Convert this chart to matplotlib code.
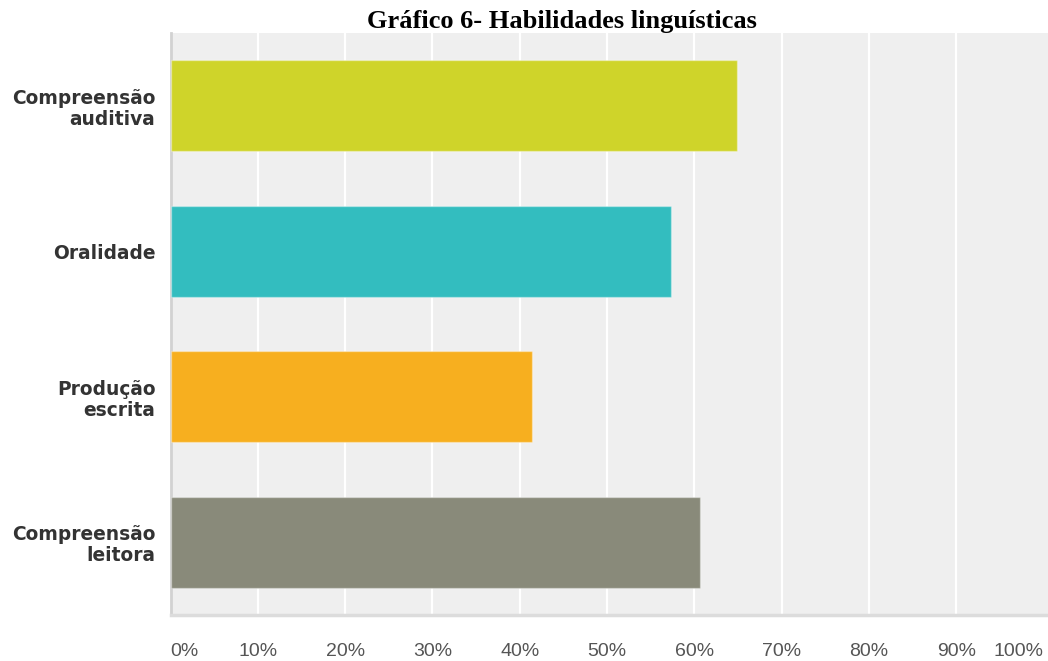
import matplotlib
matplotlib.use('Agg')
import matplotlib.pyplot as plt

# Respostas por habilidade (%)
categorias = ['Compreensão\nauditiva', 'Oralidade', 'Produção\nescrita', 'Compreensão\nleitora']
valores = [64.9, 57.3, 41.4, 60.6]
cores = ['#cfd42a', '#33bdbf', '#f7af1f', '#898a7a']
ticks_x = [0, 10, 20, 30, 40, 50, 60, 70, 80, 90, 100]
rotulos_x = [f'{t}%' for t in ticks_x]

fig = plt.figure(figsize=(10.48, 6.61), dpi=100)
ax = fig.add_axes([170.5 / 1048, 46 / 661, 877.5 / 1048, 582 / 661])
ax.set_facecolor('#efefef')

pos = list(range(len(categorias)))
ax.barh(pos, valores, height=0.625, color=cores,
        edgecolor=(1, 1, 1, 0.35), linewidth=1.0, zorder=3)

ax.set_xlim(0, 100.5)
ax.set_ylim(len(categorias) - 0.5, -0.5)

# linhas de grade brancas (sem a de 0% e 100%)
for t in ticks_x[1:-1]:
    ax.axvline(t, color='white', linewidth=1.6, zorder=1)

ax.set_xticks(ticks_x)
ax.set_xticklabels(rotulos_x, fontsize=14, color='#555555', family='Liberation Sans')
lbls = ax.get_xticklabels()
lbls[0].set_horizontalalignment('left')
lbls[-1].set_horizontalalignment('right')
ax.tick_params(axis='x', length=0, pad=20)

ax.set_yticks(pos)
ax.set_yticklabels(categorias, fontsize=13.4, fontweight='bold', color='#333333',
                   family='DejaVu Sans', linespacing=1.12)
ax.tick_params(axis='y', length=0, pad=10.8)

for s in ['top', 'right']:
    ax.spines[s].set_visible(False)
ax.spines['left'].set_color('#d2d2d2')
ax.spines['left'].set_linewidth(2)
ax.spines['bottom'].set_color('#dcdcdc')
ax.spines['bottom'].set_linewidth(2.5)

fig.text(561.5 / 1048, 1 - 28 / 661, 'Gráfico 6- Habilidades linguísticas',
         ha='center', va='baseline', fontsize=19, fontweight='bold',
         family='Liberation Serif', color='black')

fig.savefig('out.png', dpi=100)
